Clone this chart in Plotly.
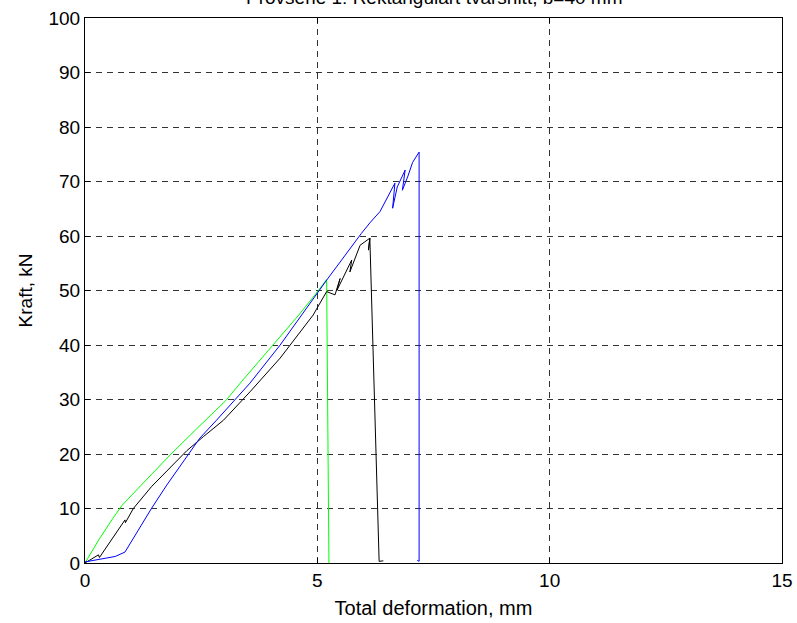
import plotly.graph_objects as go

# Provserie 1 - kraft mot total deformation, tre provkroppar
green_def = [0, 0.3, 0.6, 0.8, 1.2, 1.83, 2.4, 3.03, 3.4, 3.8, 4.2, 4.6, 4.95, 5.2, 5.25]
green_kraft = [0, 4.3, 8.2, 10.6, 14.2, 19.8, 24.6, 29.8, 33.6, 37.5, 41.5, 45.5, 49.2, 52.0, 0]

black_def = [0, 0.29, 0.31, 0.57, 0.86, 0.87, 1.04, 1.43, 1.83, 2.19, 2.55, 2.98, 3.55,
             4.2, 4.91, 5.2, 5.38, 5.49, 5.42, 5.74, 5.70, 5.92, 6.13, 6.10, 6.13, 6.33, 6.42]
black_kraft = [0, 1.5, 1.0, 4.2, 7.9, 7.4, 10.0, 14.0, 17.4, 20.6, 23.2, 26.2, 31.4,
               37.6, 45.5, 49.8, 49.2, 52.2, 50.0, 55.6, 53.4, 58.3, 59.6, 57.4, 59.6, 0.3, 0.4]

blue_def = [0, 0.65, 0.86, 1.43, 1.76, 2.12, 2.47, 2.83, 3.55, 4.2, 4.91, 5.2, 5.95, 6.13,
            6.35, 6.67, 6.62, 6.72, 6.89, 6.83, 6.95, 7.05, 7.19, 7.19, 7.15]
blue_kraft = [0.2, 1.2, 2.0, 10.0, 14.3, 18.6, 22.9, 26.2, 33.0, 40.0, 48.6, 51.9, 60.5, 62.4,
              64.5, 69.7, 65.1, 69.0, 72.1, 68.4, 71.0, 73.5, 75.4, 0.3, 0.5]

x_ticks = [0, 5, 10, 15]
y_ticks = [0, 10, 20, 30, 40, 50, 60, 70, 80, 90, 100]

fig = go.Figure()
fig.add_trace(go.Scatter(x=green_def, y=green_kraft, mode="lines",
                         line=dict(color="#00ff00", width=1)))
fig.add_trace(go.Scatter(x=black_def, y=black_kraft, mode="lines",
                         line=dict(color="black", width=1)))
fig.add_trace(go.Scatter(x=blue_def, y=blue_kraft, mode="lines",
                         line=dict(color="blue", width=1)))

axis_style = dict(showline=True, linecolor="black", linewidth=1, mirror="ticks",
                  ticks="inside", ticklen=5, tickcolor="black", automargin=False,
                  showgrid=True, gridcolor="#333333", gridwidth=1, griddash="6px,5px",
                  zeroline=False, tickfont=dict(size=19, color="black"))

fig.update_xaxes(range=[0, 15], tickvals=x_ticks,
                 title=dict(text="Total deformation, mm", font=dict(size=20, color="black"), standoff=11),
                 **axis_style)
fig.update_yaxes(range=[0, 100], tickvals=y_ticks,
                 title=dict(text="Kraft, kN", font=dict(size=19, color="black"), standoff=10),
                 **axis_style)

# titeln ligger delvis utanför bilden, som i originalet
fig.add_annotation(text="Provserie 1: Rektangulärt tvärsnitt, b=40 mm",
                   xref="paper", yref="paper", x=0.5, y=1.037,
                   xanchor="center", yanchor="middle", showarrow=False,
                   font=dict(size=19, color="black"))

fig.update_layout(
    width=797, height=623,
    margin=dict(l=85, r=15, t=18, b=60),
    plot_bgcolor="white", paper_bgcolor="white",
    font=dict(family="Liberation Sans, Arial, sans-serif", size=19, color="black"),
    showlegend=False,
)

fig.write_html("out.html", config={"displayModeBar": False},
               post_script="document.body.style.margin='0';")
